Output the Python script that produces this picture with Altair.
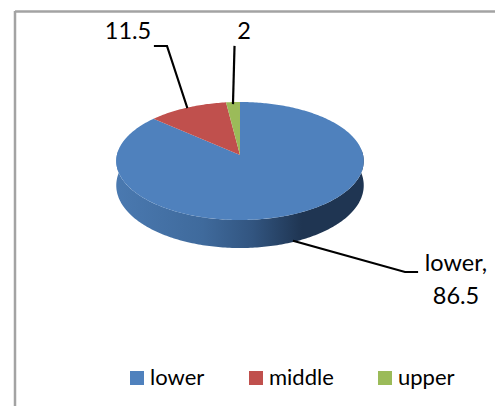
import numpy as np
import altair as alt

categories = ["lower", "middle", "upper"]
values = [86.5, 11.5, 2]
colors = ["#4F81BD", "#C0504D", "#9BBB59"]

FONT = "Lato"
LABEL_SIZE = 23.5
LEGEND_SIZE = 22

# Tilted-disc projection: a unit circle mapped through a slight perspective.
APEX_X, APEX_Y = 240.0, 155.0
RADIUS_X, RADIUS_Y, TILT = 123.1, 58.4, 0.1017


def to_screen(theta):
    u, v = np.sin(theta), np.cos(theta)
    w = 1 + TILT * v
    return APEX_X + RADIUS_X * u / w, APEX_Y - RADIUS_Y * v / w


def rim_depth(theta):
    return 24 - 4 * np.cos(theta)


# Slice polygons, clockwise from twelve o'clock, one feature per category.
edges = np.cumsum([0] + values) / sum(values) * 2 * np.pi
slices = []
for name, start, end in zip(categories, edges[:-1], edges[1:]):
    t = np.linspace(start, end, max(8, int((end - start) * 60)))
    xs, ys = to_screen(t)
    ring = [[APEX_X, APEX_Y]] + [[float(a), float(b)] for a, b in zip(xs, ys)] + [[APEX_X, APEX_Y]]
    slices.append({
        "type": "Feature",
        "properties": {"category": name},
        "geometry": {"type": "Polygon", "coordinates": [ring]},
    })

# Visible wall of the disc: the front half of the rim and its lowered copy.
t = np.linspace(np.pi * 0.47, np.pi * 1.53, 200)
xs, ys = to_screen(t)
upper_edge = [[float(a), float(b)] for a, b in zip(xs, ys)]
lower_edge = [[float(a), float(b + d)] for a, b, d in zip(xs, ys, rim_depth(t))]
wall_ring = upper_edge + lower_edge[::-1] + upper_edge[:1]
wall = [{
    "type": "Feature",
    "properties": {},
    "geometry": {"type": "Polygon", "coordinates": [wall_ring]},
}]

projection = dict(type="identity", scale=1, translate=[0, 0])

wall_layer = alt.Chart(alt.Data(values=wall)).mark_geoshape(
    stroke=None,
    fill=alt.Gradient(
        gradient="linear", x1=0, x2=1, y1=0, y2=0,
        stops=[
            alt.GradientStop(offset=0.0, color="#4A79B0"),
            alt.GradientStop(offset=0.35, color="#3F6A9C"),
            alt.GradientStop(offset=0.55, color="#325580"),
            alt.GradientStop(offset=0.75, color="#1F3552"),
            alt.GradientStop(offset=1.0, color="#1F3552"),
        ],
    ),
).project(**projection)

slice_layer = alt.Chart(alt.Data(values=slices)).mark_geoshape(stroke=None).encode(
    color=alt.Color(
        "properties.category:N",
        scale=alt.Scale(domain=categories, range=colors),
        legend=alt.Legend(
            title=None,
            orient="none",
            legendX=126,
            legendY=367,
            direction="horizontal",
            columns=3,
            columnPadding=40,
            symbolType="square",
            symbolSize=196,
            symbolStrokeWidth=0,
            symbolOpacity=1,
            labelFont=FONT,
            labelFontSize=LEGEND_SIZE,
            labelColor="#000000",
            labelOffset=2,
            padding=0,
        ),
    )
).project(**projection)

# Leader lines from the slices out to their labels.
leaders = [
    [("middle", 187, 107), ("middle", 167, 46), ("middle", 155, 46)],
    [("upper", 233, 103), ("upper", 234.5, 47)],
    [("lower", 294, 241), ("lower", 405, 272), ("lower", 417, 272)],
]
leader_rows = [
    {"slice": name, "px": px, "py": py, "step": i}
    for path in leaders
    for i, (name, px, py) in enumerate(path)
]
leader_layer = alt.Chart(alt.Data(values=leader_rows)).mark_line(
    color="#000000", strokeWidth=2.2, strokeCap="square", strokeJoin="miter"
).encode(
    x=alt.X("px:Q", scale=None),
    y=alt.Y("py:Q", scale=None),
    detail="slice:N",
    order="step:Q",
)

# Value labels, in the same order as the slices.
label_rows = [
    {"text": f"{categories[0]},", "px": 456, "py": 264},
    {"text": f"{values[0]}", "px": 456, "py": 297},
    {"text": f"{values[1]}", "px": 128, "py": 32},
    {"text": f"{values[2]}", "px": 244, "py": 32},
]
label_layer = alt.Chart(alt.Data(values=label_rows)).mark_text(
    font=FONT, fontSize=LABEL_SIZE, color="#000000", align="center", baseline="middle"
).encode(
    x=alt.X("px:Q", scale=None),
    y=alt.Y("py:Q", scale=None),
    text="text:N",
)

# Grey frame showing along the left and top of the chart area.
frame_rows = [{"x1": 15, "x2": 495, "y1": 11.5, "y2": 11.5}, {"x1": 15, "x2": 15, "y1": 11, "y2": 406}]
frame_layer = alt.Chart(alt.Data(values=frame_rows)).mark_rule(
    color="#A3A3A3", strokeWidth=2.5
).encode(
    x=alt.X("x1:Q", scale=None),
    x2="x2:Q",
    y=alt.Y("y1:Q", scale=None),
    y2="y2:Q",
)

chart = alt.layer(
    frame_layer, wall_layer, slice_layer, leader_layer, label_layer
).properties(
    width=495,
    height=406,
    padding=0,
    autosize=alt.AutoSizeParams(type="none"),
    background="#FFFFFF",
).configure_view(stroke=None)

chart.save("out.html", embed_options={"renderer": "svg", "actions": False})
